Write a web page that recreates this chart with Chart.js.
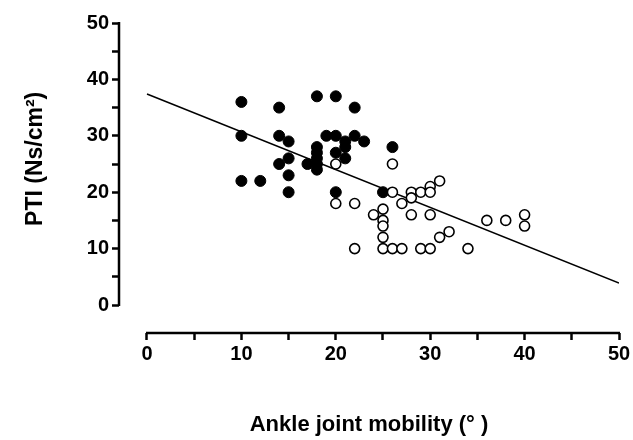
<!DOCTYPE html>
<html lang="en">

<head>
    <meta charset="UTF-8">
    <title>PTI vs ankle joint mobility</title>
    <style>
        body { margin: 0; background: #fff; }
        .grafico { width: 633px; height: 440px; }
    </style>
</head>

<body>
    <div class="grafico">
        <canvas id="estatisticas"></canvas>
    </div>

    <script src="https://cdn.jsdelivr.net/npm/chart.js"></script>
    <script>
        // filled circles: [mobility, PTI]
        const cheiosX = [10, 10, 10, 12, 14, 14, 14, 15, 15, 15, 15, 17, 18, 18, 18, 18, 18, 18, 19, 20, 20, 20, 20, 21, 21, 21, 22, 22, 23, 25, 26];
        const cheiosY = [36, 30, 22, 22, 35, 30, 25, 29, 26, 23, 20, 25, 37, 28, 27, 26, 25, 24, 30, 37, 30, 27, 20, 29, 28, 26, 35, 30, 29, 20, 28];

        // open circles
        const vaziosX = [20, 26, 20, 22, 24, 25, 25, 25, 25, 25, 22, 26, 27, 29, 30, 26, 27, 28, 28, 29, 30, 31, 30, 28, 30, 31, 32, 34, 36, 38, 40, 40];
        const vaziosY = [25, 25, 18, 18, 16, 17, 15, 14, 12, 10, 10, 10, 10, 10, 10, 20, 18, 20, 19, 20, 21, 22, 20, 16, 16, 12, 13, 10, 15, 15, 16, 14];

        // regression line end points
        const retaX = [0, 50];
        const retaY = [37.4, 3.9];

        // labelled ticks and all tick marks (minor every 5)
        const ticksX = [0, 10, 20, 30, 40, 50];
        const ticksY = [0, 10, 20, 30, 40, 50];
        const marcas = [0, 5, 10, 15, 20, 25, 30, 35, 40, 45, 50];

        const pares = (xs, ys) => xs.map((x, i) => ({ x: x, y: ys[i] }));

        const fonteTick = { family: 'Liberation Sans, Arial, sans-serif', size: 20, weight: 'bold' };
        const fonteTitulo = { family: 'Liberation Sans, Arial, sans-serif', size: 22, weight: 'bold' };
        const fonteTituloY = { family: 'Liberation Sans, Arial, sans-serif', size: 23, weight: 'bold' };

        function montarTicks(scale) {
            scale.ticks = marcas.map(v => ({ value: v }));
        }
        function rotulo(valor, lista) {
            return lista.includes(valor) ? String(valor) : '';
        }

        // axis lines drawn only over 0..50 (offset axes)
        const eixos = {
            id: 'eixos',
            afterDraw(chart) {
                const ctx = chart.ctx;
                const x = chart.scales.x;
                const y = chart.scales.y;
                ctx.save();
                ctx.strokeStyle = '#000';
                ctx.lineWidth = 2.5;
                ctx.beginPath();
                ctx.moveTo(chart.chartArea.left, y.getPixelForValue(0) + 1);
                ctx.lineTo(chart.chartArea.left, y.getPixelForValue(50) - 1);
                ctx.moveTo(x.getPixelForValue(0) - 1, chart.chartArea.bottom);
                ctx.lineTo(x.getPixelForValue(50) + 1, chart.chartArea.bottom);
                ctx.stroke();
                ctx.restore();
            }
        };

        const dados = {
            datasets: [{
                label: 'Reta',
                type: 'line',
                data: pares(retaX, retaY),
                borderColor: '#000',
                borderWidth: 1.5,
                pointRadius: 0,
                fill: false,
                order: 3
            }, {
                label: 'Cheios',
                data: pares(cheiosX, cheiosY),
                backgroundColor: '#000',
                borderColor: '#000',
                borderWidth: 1,
                pointRadius: 5.5,
                order: 2
            }, {
                label: 'Vazios',
                data: pares(vaziosX, vaziosY),
                backgroundColor: '#fff',
                borderColor: '#000',
                borderWidth: 1.6,
                pointRadius: 5,
                order: 1
            }]
        };

        const config = {
            type: 'scatter',
            data: dados,
            options: {
                responsive: true,
                maintainAspectRatio: false,
                animation: false,
                layout: { padding: { left: 0, right: 14, top: 23, bottom: 0 } },
                plugins: {
                    legend: { display: false },
                    tooltip: { enabled: false }
                },
                scales: {
                    x: {
                        type: 'linear',
                        min: -2.966,
                        max: 50,
                        afterBuildTicks: montarTicks,
                        afterFit: s => { s.height = 107; },
                        border: { display: false },
                        grid: {
                            drawOnChartArea: false,
                            drawTicks: true,
                            tickLength: 7,
                            tickWidth: 2.5,
                            tickColor: '#000'
                        },
                        ticks: {
                            color: '#000',
                            font: fonteTick,
                            padding: 2,
                            maxRotation: 0,
                            autoSkip: false,
                            callback: v => rotulo(v, ticksX)
                        },
                        title: {
                            display: true,
                            text: 'Ankle joint mobility (° )',
                            color: '#000',
                            font: fonteTitulo,
                            padding: { top: 0, bottom: 2 }
                        }
                    },
                    y: {
                        type: 'linear',
                        min: -4.96,
                        max: 50,
                        afterBuildTicks: montarTicks,
                        afterFit: s => { s.width = 119; },
                        border: { display: false },
                        grid: {
                            drawOnChartArea: false,
                            drawTicks: true,
                            tickLength: 7,
                            tickWidth: 2.5,
                            tickColor: '#000'
                        },
                        ticks: {
                            color: '#000',
                            font: fonteTick,
                            padding: 3,
                            autoSkip: false,
                            callback: v => rotulo(v, ticksY)
                        },
                        title: {
                            display: true,
                            // leading spaces move the text up to where the reference has it
                            text: '      PTI (Ns/cm²)',
                            color: '#000',
                            font: fonteTituloY,
                            padding: { top: 22, bottom: 0 }
                        }
                    }
                }
            },
            plugins: [eixos]
        };

        let myChart = new Chart(document.getElementById('estatisticas'), config);
    </script>
</body>

</html>
